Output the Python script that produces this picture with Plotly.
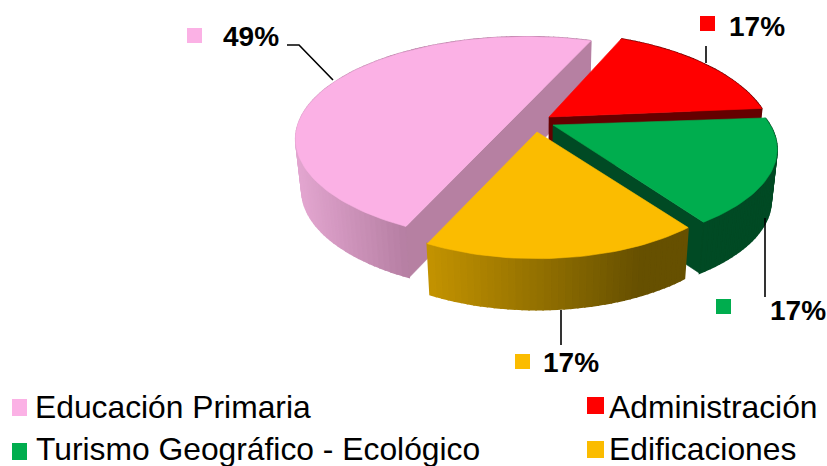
import math
import plotly.graph_objects as go

# ---- data ----
categories = ["Educación Primaria", "Administración", "Turismo Geográfico - Ecológico", "Edificaciones"]
values = [49, 17, 17, 17]
labels = ["49%", "17%", "17%", "17%"]
colors = ["#FBB1E5", "#FF0000", "#00AD4E", "#FBBC00"]

# ---- 3D look (per slice) ----
apex_x = [526, 549, 553, 537]
apex_y = [113.5, 117, 125, 132]
radius_x = [223, 218, 217, 203]
radius_y = [96, 105, 92, 95]
start_deg = [69, 66, 4.5, -53.5]
wall_left = ["#E2A5CF", "#650000", "#004A24", "#C29200"]
wall_right = ["#B67FA3", "#650000", "#004A24", "#665000"]
wall_span = [(300, 405), (0, 1), (0, 1), (430, 640)]
radial_wall = ["#B680A2", "#650000", "#004A24", None]
DEPTH = 51
PERSPECTIVE = 0.25
TAPER = 0.975
TAPER_X = 540
FONT = "Liberation Sans"


def hex_rgb(c):
    return tuple(int(c[i:i + 2], 16) for i in (1, 3, 5))


def mix(a, b, f):
    f = max(0.0, min(1.0, f))
    ra, rb = hex_rgb(a), hex_rgb(b)
    return "rgb(%d,%d,%d)" % tuple(round(p + (q - p) * f) for p, q in zip(ra, rb))


def project(i, deg):
    X = math.cos(math.radians(deg))
    Y = math.sin(math.radians(deg))
    s = 1 / (1 + PERSPECTIVE * Y)
    return apex_x[i] + radius_x[i] * X * s, apex_y[i] - radius_y[i] * Y * s


def low(x):
    return TAPER_X + (x - TAPER_X) * TAPER


def poly(xs, ys, color, width=0.6):
    return go.Scatter(x=xs, y=ys, mode="lines", fill="toself", fillcolor=color,
                      line=dict(color=color, width=width), hoverinfo="skip", showlegend=False)


fig = go.Figure()
total = sum(values)
for i, v in enumerate(values):
    span = v / total * 360
    a0 = start_deg[i]
    steps = max(2, int(span / 1.5))
    # pink slice runs counter-clockwise, the others clockwise
    sign = 1 if i == 0 else -1
    angles = [a0 + sign * span * k / steps for k in range(steps + 1)]
    pts = [project(i, a) for a in angles]
    # outer wall as shaded strips
    for (x1, y1), (x2, y2) in zip(pts, pts[1:]):
        f = ((x1 + x2) / 2 - wall_span[i][0]) / (wall_span[i][1] - wall_span[i][0])
        c = mix(wall_left[i], wall_right[i], f)
        fig.add_trace(poly([x1, x2, low(x2), low(x1), x1], [y1, y2, y2 + DEPTH, y1 + DEPTH, y1], c, 1.6))
    ax, ay = apex_x[i], apex_y[i]
    if i == 0:
        # nearly half the pie: its cut is drawn as one straight edge
        x0, y0 = pts[0]
        x1, y1 = pts[-1]
        fig.add_trace(poly([x0, x1, low(x1), low(x0), x0], [y0, y1, y1 + DEPTH, y0 + DEPTH, y0], radial_wall[i]))
        fig.add_trace(poly([p[0] for p in pts] + [x0], [p[1] for p in pts] + [y0], colors[i]))
    else:
        if radial_wall[i]:
            x1, y1 = pts[-1]
            fig.add_trace(poly([ax, x1, low(x1), low(ax), ax], [ay, y1, y1 + DEPTH, ay + DEPTH, ay], radial_wall[i]))
        fig.add_trace(poly([ax] + [p[0] for p in pts] + [ax], [ay] + [p[1] for p in pts] + [ay], colors[i]))

shapes = []


def rect(x0, y0, x1, y1, c):
    shapes.append(dict(type="rect", x0=x0, y0=y0, x1=x1, y1=y1, fillcolor=c, line=dict(width=0)))


def leader(path):
    shapes.append(dict(type="path", path=path, line=dict(color="#000000", width=1.6)))


leader("M287,45 L299,45 L333,80")
leader("M706,46 L706,63")
leader("M765,218 L765,297")
leader("M561,310 L561,345")

for box, c in zip([(187, 28, 202, 43), (700, 16, 715, 31), (716, 299, 731, 314), (515, 354, 530, 369)], colors):
    rect(*box, c)
for box, c in zip([(12, 399, 27, 416), (587, 397, 604, 414), (12, 443, 27, 460), (587, 441, 604, 458)], colors):
    rect(*box, c)

annotations = []
for (x, y), t in zip([(251, 36), (757, 26), (798, 310), (571, 362)], labels):
    annotations.append(dict(x=x, y=y, text="<b>%s</b>" % t, showarrow=False, xanchor="center", yanchor="middle",
                            font=dict(family=FONT, size=28, color="#000000")))
for (x, y), t in zip([(35, 407), (609, 407), (36, 449), (609, 449)], categories):
    annotations.append(dict(x=x, y=y, text=t, showarrow=False, xanchor="left", yanchor="middle", xshift=-2,
                            font=dict(family=FONT, size=31.8, color="#000000")))

fig.update_layout(
    width=827, height=466, margin=dict(l=0, r=0, t=0, b=0),
    paper_bgcolor="white", plot_bgcolor="white", showlegend=False,
    xaxis=dict(range=[0, 827], visible=False, fixedrange=True),
    yaxis=dict(range=[466, 0], visible=False, fixedrange=True),
    shapes=shapes, annotations=annotations,
)
fig.write_html("out.html", config={"displayModeBar": False},
               post_script="document.body.style.margin='0';document.documentElement.style.overflow='hidden';")
